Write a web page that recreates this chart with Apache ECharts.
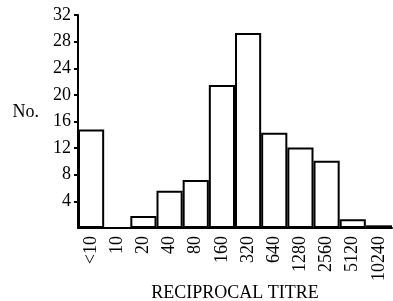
<!DOCTYPE html>
<html>
<head>
<meta charset="utf-8">
<script src="https://cdn.jsdelivr.net/npm/echarts@6/dist/echarts.min.js"></script>
<style>
  html, body { margin: 0; padding: 0; background: #fff; }
  #titreChart { width: 393px; height: 301px; }
</style>
</head>
<body>
<div id="titreChart"></div>
<script>
// reciprocal titre classes and counts
var titres = ['<10', '10', '20', '40', '80', '160', '320', '640', '1280', '2560', '5120', '10240'];
var counts = [14.8, 0, 1.8, 5.6, 7.2, 21.5, 29.3, 14.3, 12.1, 10.1, 1.3, 0.4];

document.addEventListener("DOMContentLoaded", () => {
  var serif = 'Liberation Serif';
  echarts.init(document.querySelector("#titreChart")).setOption({
    animation: false,
    grid: {
      left: 78,
      right: 1,
      top: 15,
      bottom: 73,
      containLabel: false,
      outerBoundsMode: 'none'
    },
    xAxis: {
      type: 'category',
      data: titres,
      name: 'RECIPROCAL TITRE',
      nameLocation: 'middle',
      nameGap: 56,
      nameMoveOverlap: false,
      nameTextStyle: {
        fontFamily: serif,
        fontSize: 18,
        color: '#000'
      },
      axisLine: {
        lineStyle: { color: '#000', width: 2 }
      },
      axisTick: { show: false },
      axisLabel: {
        rotate: 90,
        margin: 8,
        fontFamily: serif,
        fontSize: 18,
        color: '#000'
      }
    },
    yAxis: {
      type: 'value',
      min: 0,
      max: 32,
      interval: 4,
      name: 'No.',
      nameLocation: 'middle',
      nameRotate: 0,
      nameGap: 39,
      nameTextStyle: {
        fontFamily: serif,
        fontSize: 18,
        color: '#000',
        verticalAlign: 'bottom',
        lineHeight: 18
      },
      axisLine: {
        show: true,
        lineStyle: { color: '#000', width: 2 }
      },
      axisTick: {
        show: true,
        length: 4,
        lineStyle: { color: '#000', width: 2 }
      },
      axisLabel: {
        showMinLabel: false,
        margin: 7,
        fontFamily: serif,
        fontSize: 18,
        color: '#000'
      },
      splitLine: { show: false }
    },
    series: [{
      name: 'No.',
      type: 'bar',
      data: counts,
      barCategoryGap: '0%',
      itemStyle: {
        color: '#fff',
        borderColor: '#000',
        borderWidth: 2
      }
    }]
  });
});
</script>
</body>
</html>
